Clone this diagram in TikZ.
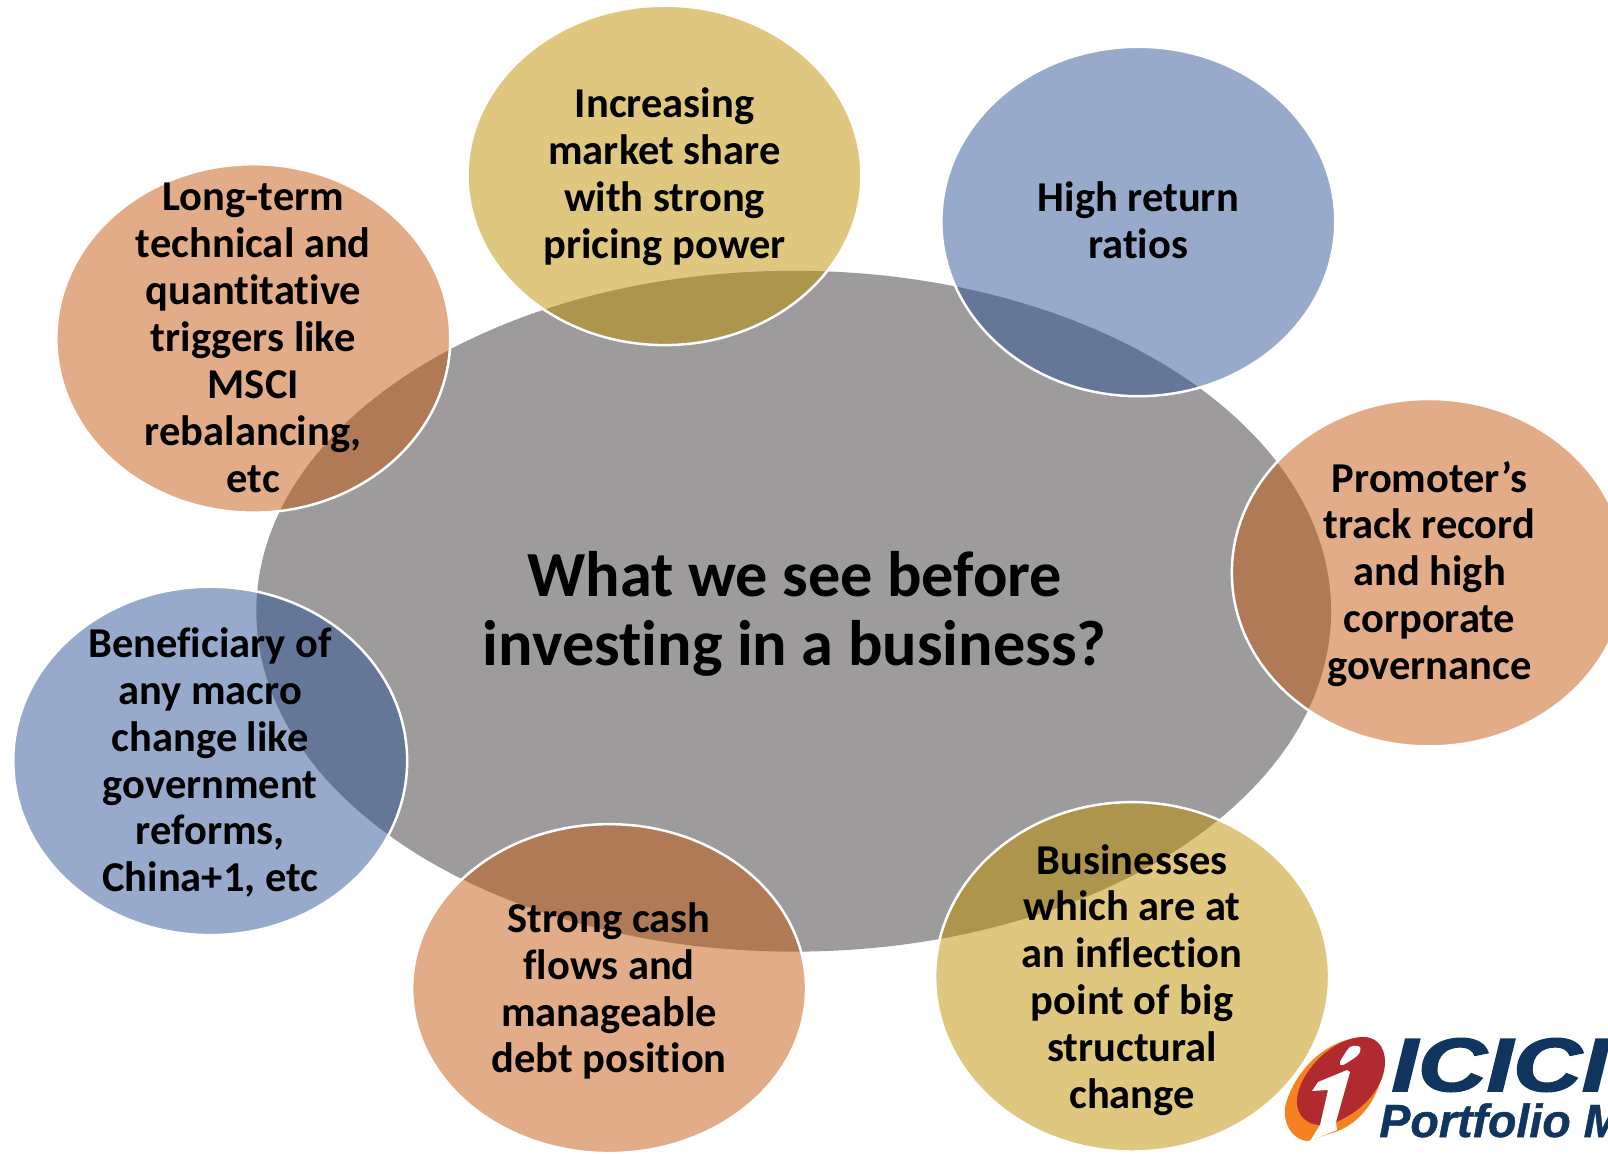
\documentclass[tikz,border=0pt]{standalone}
\usepackage{fontspec}
\setmainfont[Ligatures=NoCommon]{Carlito}
\newfontfamily\logofont{Liberation Sans}
\usetikzlibrary{shapes.geometric,positioning}
\definecolor{hubgray}{HTML}{3B3838}
\definecolor{rustfill}{HTML}{C55A11}
\definecolor{bluefill}{HTML}{2F5597}
\definecolor{goldfill}{HTML}{BF9000}
\definecolor{logonavy}{HTML}{10355F}
\definecolor{logored}{HTML}{B02A30}
\definecolor{logoorange}{HTML}{F58220}
\tikzset{
	bubble/.style={ellipse,draw=white,line width=0.05cm,fill opacity=0.5,inner sep=0pt,minimum width=7.88cm},
	bubbletext/.style={align=center,font=\fontsize{24.2}{26.7}\selectfont\bfseries},
}

\begin{document}
\begin{tikzpicture}[x=0.02cm,y=-0.02cm]
		\useasboundingbox (0,0) rectangle (1608,1153);
		\clip (0,0) rectangle (1608,1153);

		\node (hub) [ellipse,fill=hubgray,fill opacity=0.5,inner sep=0pt,minimum width=21.5cm,minimum height=13.62cm] at (793.7,611.2) {};

		\begin{scope}[every node/.style={bubble}]
			\node (share) [fill=goldfill,minimum height=6.79cm] at (664.5,175.4) {};
			\node (ratios) [fill=bluefill,minimum height=6.99cm] at (1138.3,221.5) {};
			\node (triggers) [fill=rustfill,minimum height=6.97cm] at (253.3,338.4) {};
			\node (macro) [fill=bluefill,minimum height=6.97cm] at (210.2,760.9) {};
			\node (cash) [fill=rustfill,minimum height=6.58cm] at (609.1,988.6) {};
			\node (inflection) [fill=goldfill,minimum height=6.99cm] at (1132.1,976.8) {};
			\node (promoter) [fill=rustfill,minimum height=6.95cm] at (1428.8,572.7) {};
		\end{scope}

		\begin{scope}[every node/.style={bubbletext}]
			\node (sharetext) at (664.5,177) {Increasing\\market share\\with strong\\pricing power};
			\node (ratiostext) at (1138.3,220) {High return\\ratios};
			\node (triggerstext) at (253.3,337.9) {Long-term\\technical and\\quantitative\\triggers like\\MSCI\\rebalancing,\\etc};
			\node (macrotext) at (210.2,762.5) {Beneficiary of\\any macro\\change like\\government\\reforms,\\China+1, etc};
			\node (cashtext) at (609.1,991) {Strong cash\\flows and\\manageable\\debt position};
			\node (inflectiontext) at (1132.1,980) {Businesses\\which are at\\an inflection\\point of big\\structural\\change};
			\node (promotertext) at (1429.5,574) {Promoter’s\\track record\\and high\\corporate\\governance};
		\end{scope}

		\node (hubtext) [align=center,font=\fontsize{36.6}{39.3}\selectfont\bfseries] at (794.7,613.5) {What we see before\\investing in a business?};

		% logo
		\fill[logoorange] (1308,1141) .. controls (1290,1140) and (1280,1118) .. (1287,1100) .. controls (1297,1070) and (1325,1040) .. (1362,1037) .. controls (1378,1036) and (1386,1050) .. (1383,1070) .. controls (1378,1100) and (1360,1122) .. (1338,1131) -- cycle;
		\fill[logored] (1363,1037) .. controls (1330,1038) and (1298,1075) .. (1297,1100) .. controls (1296,1116) and (1308,1125) .. (1320,1125) -- (1336,1122) .. controls (1365,1110) and (1385,1085) .. (1385,1062) .. controls (1385,1045) and (1375,1037) .. (1363,1037) -- cycle;
		\fill[white] plot[smooth cycle] coordinates {(1340,1062) (1350,1047) (1360,1047) (1358,1055) (1343,1065)};
		\fill[white] (1312,1091) -- (1318,1082) -- (1347,1070) -- (1350,1072) -- (1336,1122) -- (1337,1130) -- (1310,1141) -- (1320,1125) -- (1328,1090) -- cycle;

		\node (logotop) [anchor=base west,inner sep=0pt,text=logonavy,xscale=1.26,font=\logofont\addfontfeature{FakeBold=2}\fontsize{43}{43}\selectfont\bfseries\itshape] at (1391,1091) {ICICI};
		\node (logobottom) [anchor=base west,inner sep=0pt,text=logonavy,font=\logofont\addfontfeature{FakeBold=1}\fontsize{26.5}{26.5}\selectfont\bfseries\itshape] at (1379,1137) {Portfolio M};
	\end{tikzpicture}
\end{document}
